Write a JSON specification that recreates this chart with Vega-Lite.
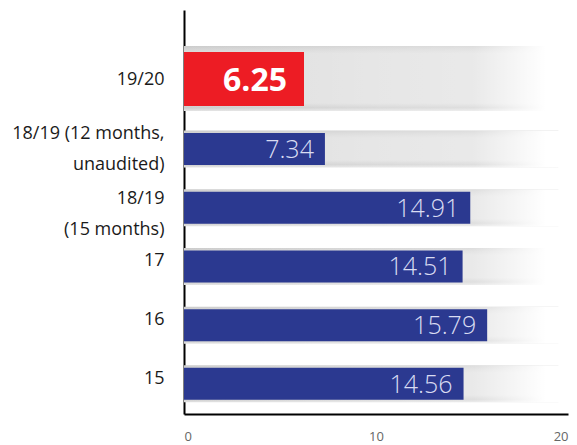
{
  "$schema": "https://vega.github.io/schema/vega-lite/v6.json",
  "width": 384,
  "height": 404,
  "autosize": "none",
  "padding": {"left": 184, "top": 10, "right": 9, "bottom": 31},
  "background": "white",
  "data": {
    "values": [
      {"period": "19/20", "value": 6.25},
      {"period": "18/19 (12 months, unaudited)", "value": 7.34},
      {"period": "18/19 (15 months)", "value": 14.91},
      {"period": "17", "value": 14.51},
      {"period": "16", "value": 15.79},
      {"period": "15", "value": 14.56}
    ]
  },
  "encoding": {
    "y": {
      "field": "period",
      "type": "nominal",
      "sort": null,
      "title": null,
      "scale": {
        "domain": ["19/20", "18/19 (12 months, unaudited)", "18/19 (15 months)", "17", "16", "15"],
        "paddingInner": 0, "paddingOuter": 0.44, "align": 0.985
      },
      "axis": {
        "labelExpr": "datum.value == '18/19 (12 months, unaudited)' ? ['18/19 (12 months,', 'unaudited)'] : datum.value == '18/19 (15 months)' ? ['18/19', '(15 months)'] : datum.value",
        "labelOffset": {
          "condition": [
            {"test": "datum.value == '19/20'", "value": -10},
            {"test": "datum.value == '18/19 (12 months, unaudited)'", "value": -15},
            {"test": "datum.value == '18/19 (15 months)'", "value": -9}
          ],
          "value": -5
        }
      }
    }
  },
  "layer": [
    {
      "transform": [{"filter": "datum.period != '19/20'"}],
      "mark": {
        "type": "bar", "height": 37,
        "fill": {"gradient": "linear", "x1": 0, "y1": 0, "x2": 0, "y2": 1,
          "stops": [
            {"offset": 0, "color": "#cbcbcb"},
            {"offset": 0.1, "color": "#d6d6d6"},
            {"offset": 0.2, "color": "#dedede"},
            {"offset": 0.8, "color": "#dedede"},
            {"offset": 0.92, "color": "#cdcdcd"},
            {"offset": 1, "color": "#e4e4e4"}
          ]}
      },
      "encoding": {
        "x": {"datum": 0, "type": "quantitative", "scale": {"domain": [0, 20]}, "axis": {"values": [0, 10, 20]}},
        "x2": {"datum": 19.5}
      }
    },
    {
      "transform": [{"filter": "datum.period == '19/20'"}],
      "mark": {
        "type": "bar", "height": 65, "yOffset": -11.85,
        "fill": {"gradient": "linear", "x1": 0, "y1": 0, "x2": 0, "y2": 1,
          "stops": [
            {"offset": 0, "color": "#cbcbcb"},
            {"offset": 0.06, "color": "#d6d6d6"},
            {"offset": 0.12, "color": "#dedede"},
            {"offset": 0.88, "color": "#dedede"},
            {"offset": 0.95, "color": "#cdcdcd"},
            {"offset": 1, "color": "#e4e4e4"}
          ]}
      },
      "encoding": {
        "x": {"datum": 0, "type": "quantitative"},
        "x2": {"datum": 19.5}
      }
    },
    {
      "transform": [{"filter": "datum.period != '19/20'"}],
      "mark": {
        "type": "bar", "height": 37,
        "fill": {"gradient": "linear", "x1": 0, "y1": 0, "x2": 1, "y2": 0,
          "stops": [
            {"offset": 0, "color": "rgba(255,255,255,0)"},
            {"offset": 0.5, "color": "rgba(255,255,255,0.25)"},
            {"offset": 0.77, "color": "rgba(255,255,255,0.35)"},
            {"offset": 0.96, "color": "rgba(255,255,255,1)"},
            {"offset": 1, "color": "rgba(255,255,255,1)"}
          ]}
      },
      "encoding": {
        "x": {"datum": 0, "type": "quantitative"},
        "x2": {"datum": 19.6}
      }
    },
    {
      "transform": [{"filter": "datum.period == '19/20'"}],
      "mark": {
        "type": "bar", "height": 65, "yOffset": -11.85,
        "fill": {"gradient": "linear", "x1": 0, "y1": 0, "x2": 1, "y2": 0,
          "stops": [
            {"offset": 0, "color": "rgba(255,255,255,0)"},
            {"offset": 0.5, "color": "rgba(255,255,255,0.25)"},
            {"offset": 0.77, "color": "rgba(255,255,255,0.35)"},
            {"offset": 0.96, "color": "rgba(255,255,255,1)"},
            {"offset": 1, "color": "rgba(255,255,255,1)"}
          ]}
      },
      "encoding": {
        "x": {"datum": 0, "type": "quantitative"},
        "x2": {"datum": 19.6}
      }
    },
    {
      "transform": [{"filter": "datum.period != '19/20'"}],
      "mark": {"type": "bar", "height": 32, "color": "#2b3990"},
      "encoding": {
        "x": {"field": "value", "type": "quantitative"}
      }
    },
    {
      "transform": [{"filter": "datum.period == '19/20'"}],
      "mark": {"type": "bar", "height": 54, "yOffset": -11.35, "color": "#ed1c24"},
      "encoding": {
        "x": {"field": "value", "type": "quantitative"}
      }
    },
    {
      "transform": [{"filter": "datum.period != '19/20'"}],
      "mark": {"type": "text", "align": "right", "baseline": "middle", "dx": -11, "dy": 1, "font": "Open Sans", "fontWeight": 300, "fontSize": 25, "color": "#d9dcf2"},
      "encoding": {
        "x": {"field": "value", "type": "quantitative"},
        "text": {"field": "value", "type": "quantitative", "format": ".2f"}
      }
    },
    {
      "transform": [{"filter": "datum.period == '19/20'"}],
      "mark": {"type": "text", "align": "right", "baseline": "middle", "dx": -17, "dy": -9, "font": "Open Sans", "fontWeight": "bold", "fontSize": 32, "color": "white"},
      "encoding": {
        "x": {"field": "value", "type": "quantitative"},
        "text": {"field": "value", "type": "quantitative", "format": ".2f"}
      }
    }
  ],
  "config": {
    "view": {"stroke": null},
    "axisY": {
      "domainColor": "black", "domainWidth": 2, "ticks": false, "grid": false,
      "labelFont": "Open Sans", "labelFontSize": 18, "labelColor": "#1a1a1a",
      "labelPadding": 20, "labelLineHeight": 31, "zindex": 1, "title": null
    },
    "axisX": {
      "domainColor": "black", "domainWidth": 2, "ticks": false, "grid": false,
      "labelFont": "Open Sans", "labelFontSize": 13, "labelColor": "#666666",
      "labelPadding": 16, "zindex": 1, "title": null
    }
  }
}
